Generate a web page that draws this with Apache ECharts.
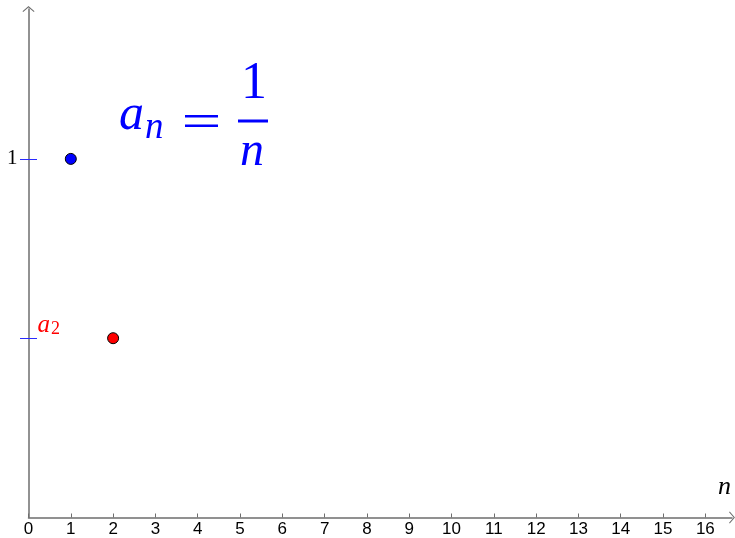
<!DOCTYPE html>
<html>
<head>
<meta charset="utf-8">
<script src="https://cdn.jsdelivr.net/npm/echarts@6/dist/echarts.min.js"></script>
<style>
html,body{margin:0;padding:0;background:#fff;}
#chart{width:735px;height:538px;}
</style>
</head>
<body>
<div id="chart"></div>
<script>
// Data
const nValues = [1, 2];
const aValues = [1, 0.5];
const pointColors = ['#0000ff', '#ff0000'];
const xTickValues = [0,1,2,3,4,5,6,7,8,9,10,11,12,13,14,15,16];
const yTickValues = [0.5, 1];
const yLabelValues = [1];
const markedTermValues = [0.5];
const xMin = 0, xMax = 16.63;
const yMin = 0, yMax = 1.418;

const chart = echarts.init(document.getElementById('chart'), null, {renderer: 'canvas'});
const axisGray = '#6e6e6e';
const tickBlue = '#2a2aff';
const chevron = 'path://M0,8.6 L10,0 L20,8.6 L18.9,9.8 L10,2.2 L1.1,9.8 Z';
const serif = '"Liberation Serif", "DejaVu Serif", serif';

const option = {
  backgroundColor: '#ffffff',
  animation: false,
  grid: {left: 28.5, right: 3, top: 9, bottom: 20.5, containLabel: false},
  xAxis: {
    type: 'value', min: xMin, max: xMax, interval: 1,
    splitLine: {show: false},
    axisLine: {show: true, lineStyle: {color: axisGray, width: 1.5}, symbol: ['none', chevron], symbolSize: [12, 6]},
    axisTick: {show: true, inside: true, length: 4, lineStyle: {color: axisGray, width: 1}, customValues: xTickValues},
    axisLabel: {customValues: xTickValues, color: '#000', fontFamily: '"Liberation Sans", Arial, sans-serif', fontSize: 17, margin: 3},
    name: 'n', nameLocation: 'end', nameGap: -14,
    nameTextStyle: {fontFamily: serif, fontStyle: 'italic', fontSize: 26, color: '#000', verticalAlign: 'bottom', padding: [0,0,17,0]}
  },
  yAxis: [{
    type: 'value', min: yMin, max: yMax, position: 'left',
    splitLine: {show: false},
    axisLine: {show: true, onZero: false, lineStyle: {color: axisGray, width: 1.5}, symbol: ['none', chevron], symbolSize: [12, 6]},
    axisTick: {show: false},
    axisLabel: {customValues: yLabelValues, color: '#000', fontFamily: serif, fontSize: 21, margin: 11}
  }, {
    type: 'value', min: yMin, max: yMax, position: 'left', offset: 8.5,
    splitLine: {show: false},
    axisLine: {show: false, onZero: false},
    axisTick: {show: true, inside: true, length: 17, lineStyle: {color: tickBlue, width: 1}, customValues: yTickValues},
    axisLabel: {
      inside: true, customValues: markedTermValues, margin: 17.5, verticalAlign: 'bottom',
      formatter: function () { return '{a|a}{s|2}'; },
      rich: {
        a: {fontFamily: serif, fontStyle: 'italic', fontSize: 25, lineHeight: 25, color: '#ff0000', verticalAlign: 'top'},
        s: {fontFamily: serif, fontSize: 18, lineHeight: 18, color: '#ff0000', verticalAlign: 'bottom', padding: [11,0,0,1]}
      }
    }
  }],
  series: [{
    type: 'scatter',
    symbol: 'circle', symbolSize: 11,
    itemStyle: {borderColor: '#000', borderWidth: 1, opacity: 1},
    data: nValues.map((n, i) => ({value: [n, aValues[i]], itemStyle: {color: pointColors[i], opacity: 1}})),
    z: 5
  }],
  graphic: [
    {type: 'text', position: [119, 115.5], style: {text: 'a', font: 'italic 50px ' + serif, fill: '#0000ff', verticalAlign: 'middle'}},
    {type: 'text', position: [145, 128], style: {text: 'n', font: 'italic 37px ' + serif, fill: '#0000ff', verticalAlign: 'middle'}},
    {type: 'rect', shape: {x: 185, y: 115, width: 33, height: 2.5}, style: {fill: '#0000ff'}},
    {type: 'rect', shape: {x: 185, y: 124.5, width: 33, height: 2.5}, style: {fill: '#0000ff'}},
    {type: 'text', position: [254, 84], style: {text: '1', font: '52px ' + serif, fill: '#0000ff', align: 'center', verticalAlign: 'middle'}},
    {type: 'rect', shape: {x: 238, y: 119.5, width: 30, height: 3}, style: {fill: '#0000ff'}},
    {type: 'text', position: [252, 152], style: {text: 'n', font: 'italic 48px ' + serif, fill: '#0000ff', align: 'center', verticalAlign: 'middle'}}
  ]
};
chart.setOption(option);
</script>
</body>
</html>
